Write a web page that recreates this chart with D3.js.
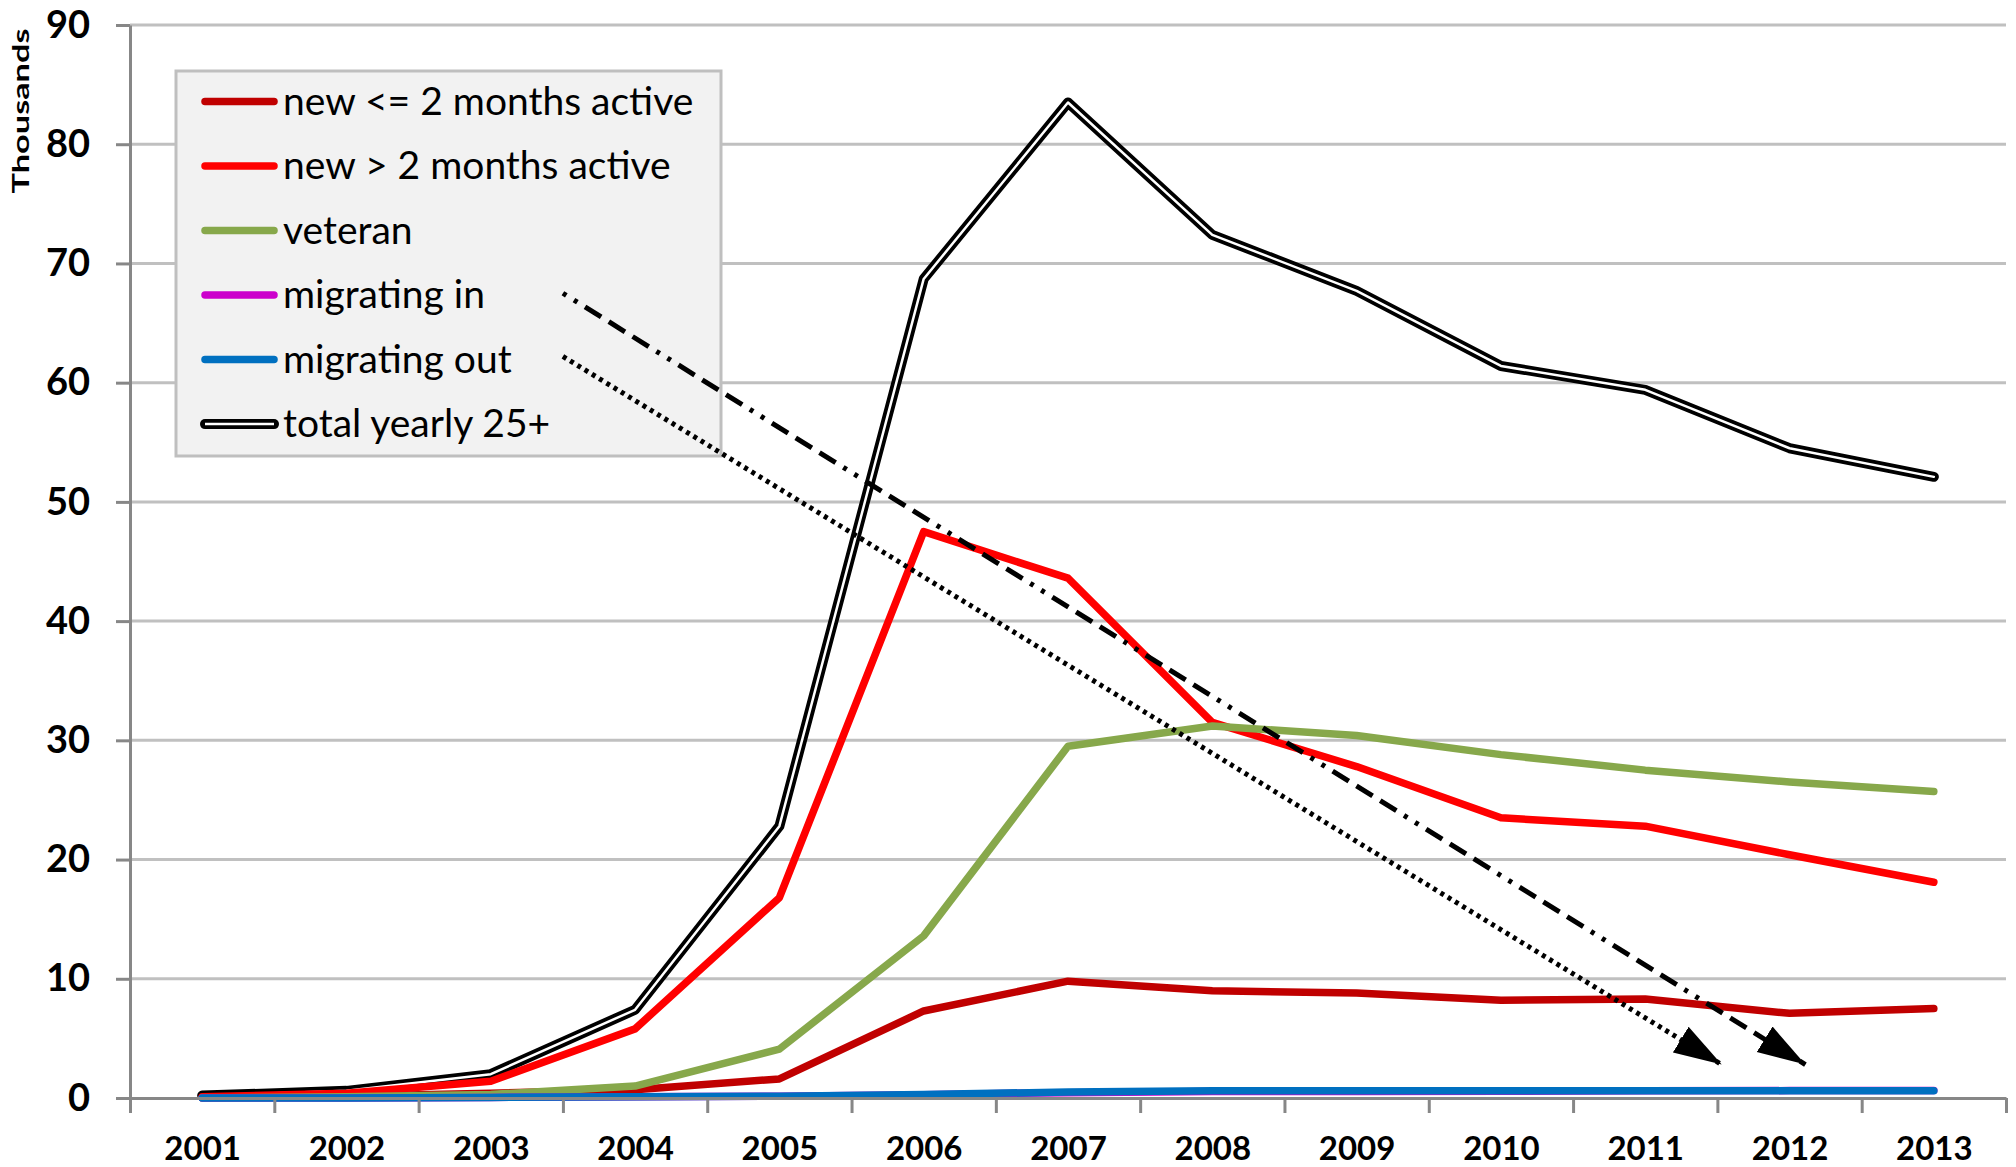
<!DOCTYPE html>
<html>
<head>
<meta charset="utf-8">
<script src="https://cdn.jsdelivr.net/npm/d3@7"></script>
<style>
  body { margin: 0; background: #fff; }
  svg { display: block; font-family: Lato, "Open Sans", sans-serif; }
</style>
</head>
<body>
<div id="chart"></div>
<script>
const years = [2001, 2002, 2003, 2004, 2005, 2006, 2007, 2008, 2009, 2010, 2011, 2012, 2013];
const yTicks = [0, 10, 20, 30, 40, 50, 60, 70, 80, 90];

// values in thousands
const newShort     = [0.05, 0.15, 0.4, 0.7, 1.6, 7.3, 9.8, 9.0, 8.8, 8.2, 8.3, 7.1, 7.5];
const newLong      = [0.1, 0.4, 1.4, 5.8, 16.8, 47.5, 43.6, 31.5, 27.8, 23.5, 22.8, 20.4, 18.1];
const veteran      = [0.0, 0.1, 0.3, 1.0, 4.1, 13.6, 29.5, 31.2, 30.4, 28.8, 27.5, 26.5, 25.7];
const migratingIn  = [0.0, 0.0, 0.05, 0.1, 0.15, 0.28, 0.45, 0.55, 0.55, 0.57, 0.6, 0.62, 0.62];
const migratingOut = [0.0, 0.0, 0.05, 0.1, 0.15, 0.3, 0.5, 0.6, 0.6, 0.6, 0.6, 0.6, 0.6];
const totalYearly  = [0.2, 0.6, 2.0, 7.4, 22.8, 68.7, 83.5, 72.4, 67.7, 61.4, 59.4, 54.5, 52.1];

const seriesNames  = ["new <= 2 months active", "new > 2 months active", "veteran", "migrating in", "migrating out", "total yearly 25+"];
const seriesColors = ["#c00000", "#ff0000", "#87a84b", "#cc00cc", "#0070c0", "#000000"];

// trend arrows: [year, value] start and tip
const dashArrow = [[2003.5, 67.5], [2012.11, 2.8]];
const dotArrow  = [[2003.5, 62.2], [2011.53, 2.8]];

const fullWidth = 2016;
const fullHeight = 1167;
const plot = { left: 130, right: 2006, top: 25, bottom: 1098 };

const svg = d3.select('#chart')
  .append('svg')
  .attr('width', fullWidth)
  .attr('height', fullHeight);

const x = d3.scaleLinear()
  .domain([years[0] - 0.5, years[years.length - 1] + 0.5])
  .range([plot.left, plot.right]);

const y = d3.scaleLinear()
  .domain([0, 90])
  .range([plot.bottom, plot.top]);

// gridlines
svg.append('g')
  .selectAll('line')
  .data(yTicks.filter(t => t > 0))
  .join('line')
  .attr('x1', plot.left)
  .attr('x2', plot.right)
  .attr('y1', d => y(d))
  .attr('y2', d => y(d))
  .attr('stroke', '#c0c0c0')
  .attr('stroke-width', 3);

// legend
const legend = svg.append('g');
legend.append('rect')
  .attr('x', 176)
  .attr('y', 71)
  .attr('width', 545)
  .attr('height', 385)
  .attr('fill', '#f2f2f2')
  .attr('stroke', '#bfbfbf')
  .attr('stroke-width', 3);

const items = legend.selectAll('g.item')
  .data(seriesNames)
  .join('g')
  .attr('class', 'item')
  .attr('transform', (d, i) => `translate(0, ${101.6 + i * 64.5})`);

items.append('line')
  .attr('x1', 205).attr('x2', 274)
  .attr('stroke', (d, i) => seriesColors[i])
  .attr('stroke-width', (d, i) => i === 5 ? 10 : 7.5)
  .attr('stroke-linecap', 'round');

items.filter((d, i) => i === 5)
  .append('line')
  .attr('x1', 205).attr('x2', 274)
  .attr('stroke', '#fff')
  .attr('stroke-width', 2.5);

items.append('text')
  .attr('x', 283)
  .attr('y', 13)
  .attr('font-size', 39)
  .attr('fill', '#000')
  .text(d => d);

// series
const line = d3.line()
  .x((d, i) => x(years[i]))
  .y(d => y(d));

const lines = svg.append('g')
  .attr('fill', 'none')
  .attr('stroke-linejoin', 'round')
  .attr('stroke-linecap', 'round');

lines.append('path')
  .attr('d', line(totalYearly))
  .attr('stroke', seriesColors[5])
  .attr('stroke-width', 10);
lines.append('path')
  .attr('d', line(totalYearly))
  .attr('stroke', '#fff')
  .attr('stroke-width', 2.5);

[newShort, newLong, veteran, migratingIn, migratingOut].forEach((values, i) => {
  lines.append('path')
    .attr('d', line(values))
    .attr('stroke', seriesColors[i])
    .attr('stroke-width', 7.5);
});

// axes
const yAxis = d3.axisLeft(y)
  .tickValues(yTicks)
  .tickSize(14)
  .tickSizeOuter(0)
  .tickPadding(26);

const yAxisG = svg.append('g')
  .attr('transform', `translate(${plot.left}, 0)`)
  .call(yAxis);

yAxisG.selectAll('text')
  .attr('font-size', 38)
  .attr('font-weight', 'bold')
  .attr('font-family', 'Lato, sans-serif')
  .attr('fill', '#000');

const boundaries = years.map(v => v - 0.5).concat([years[years.length - 1] + 0.5]);
const xTickAxis = d3.axisBottom(x)
  .tickValues(boundaries)
  .tickSize(15)
  .tickSizeOuter(0)
  .tickFormat('');

const xLabelAxis = d3.axisBottom(x)
  .tickValues(years)
  .tickSize(0)
  .tickFormat(d3.format('d'));

const xAxisG = svg.append('g')
  .attr('transform', `translate(0, ${plot.bottom})`)
  .call(xTickAxis);

const xLabelG = svg.append('g')
  .attr('transform', `translate(0, ${plot.bottom})`)
  .call(xLabelAxis);
xLabelG.select('.domain').remove();
xLabelG.selectAll('text')
  .attr('y', 62)
  .attr('dy', 0)
  .attr('font-size', 33)
  .attr('font-weight', 'bold')
  .attr('font-family', 'Lato, sans-serif')
  .attr('fill', '#000');

[yAxisG, xAxisG].forEach(g => {
  g.selectAll('.domain, .tick line')
    .attr('stroke', '#878787')
    .attr('stroke-width', 3);
});

svg.append('text')
  .attr('transform', 'translate(29, 111) rotate(-90)')
  .attr('text-anchor', 'middle')
  .attr('font-size', 22)
  .attr('font-weight', 'bold')
  .attr('textLength', 165)
  .attr('lengthAdjust', 'spacingAndGlyphs')
  .text('Thousands');

// trend arrows
svg.append('defs')
  .append('marker')
  .attr('id', 'head')
  .attr('markerUnits', 'userSpaceOnUse')
  .attr('markerWidth', 50)
  .attr('markerHeight', 32)
  .attr('viewBox', '0 -16 50 32')
  .attr('refX', 48)
  .attr('refY', 0)
  .attr('orient', 'auto')
  .append('path')
  .attr('d', 'M0,-15L48,0L0,15Z')
  .attr('fill', '#000');

const arrowLine = d3.line()
  .x(d => x(d[0]))
  .y(d => y(d[1]));

svg.append('path')
  .attr('d', arrowLine(dashArrow))
  .attr('fill', 'none')
  .attr('stroke', '#000')
  .attr('stroke-width', 5)
  .attr('stroke-dasharray', '4,9,4,9,19,9,19,9,19,9')
  .attr('marker-end', 'url(#head)');

svg.append('path')
  .attr('d', arrowLine(dotArrow))
  .attr('fill', 'none')
  .attr('stroke', '#000')
  .attr('stroke-width', 5)
  .attr('stroke-dasharray', '4,4.5')
  .attr('marker-end', 'url(#head)');
</script>
</body>
</html>
